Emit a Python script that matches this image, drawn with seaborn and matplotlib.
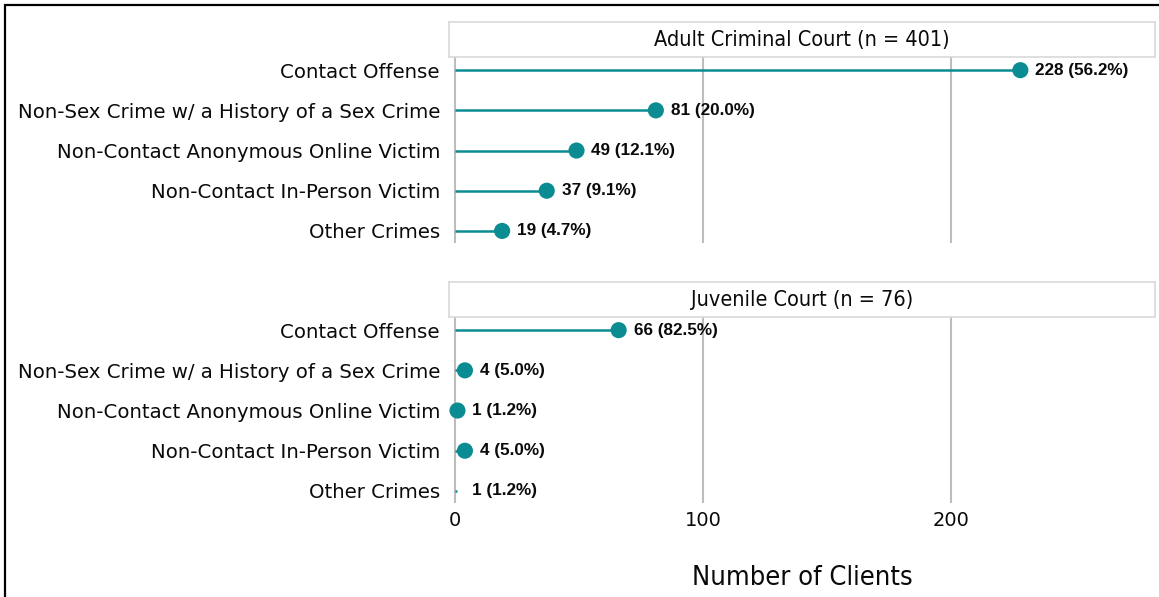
import matplotlib

matplotlib.use("Agg")
import matplotlib.pyplot as plt
import pandas
import seaborn as sns
from matplotlib.patches import Rectangle

# Categories (top to bottom) and the counts per court
categories = [
    "Contact Offense",
    "Non-Sex Crime w/ a History of a Sex Crime",
    "Non-Contact Anonymous Online Victim",
    "Non-Contact In-Person Victim",
    "Other Crimes",
]
adult_counts = [228, 81, 49, 37, 19]
adult_pcts = [56.2, 20.0, 12.1, 9.1, 4.7]
juvenile_counts = [66, 4, 1, 4, 1]
juvenile_pcts = [82.5, 5.0, 1.2, 5.0, 1.2]
# the last juvenile row is drawn without its dot in the source chart
juvenile_dots = [True, True, True, True, False]

panel_titles = ["Adult Criminal Court (n = 401)", "Juvenile Court (n = 76)"]
x_ticks = [0, 100, 200]

TEAL = "#0B8C93"
GRID = "#BDBDBD"
INK = "#0a0a0a"

sns.set_theme(style="white")
plt.rcParams["font.family"] = ["DejaVu Sans"]

fig = plt.figure(figsize=(11.59, 5.97), dpi=100)

# Frame around the whole figure (bottom edge falls outside the picture)
fig.patches.append(
    Rectangle(
        (5 / 1159, -0.05),
        1.0,
        1.0 - 5 / 597 + 0.05,
        transform=fig.transFigure,
        fill=False,
        edgecolor="black",
        linewidth=1.6,
    )
)

panels = [
    (adult_counts, adult_pcts, [True] * 5, 0.5930),
    (juvenile_counts, juvenile_pcts, juvenile_dots, 0.1575),
]

left = 449 / 1159
width = 1155 / 1159 - left
height = 0.3110
strip_h = 35 / 597

for i, (counts, pcts, dots, bottom) in enumerate(panels):
    ax = fig.add_axes([left, bottom, width, height])
    df = pandas.DataFrame(
        {"category": categories, "count": counts, "pct": pcts, "dot": dots}
    )
    ypos = list(range(len(categories)))

    # Stems
    ax.hlines(y=ypos, xmin=0, xmax=df["count"], color=TEAL, linewidth=1.8, zorder=2)
    # Dots
    dot_df = df[df["dot"]].copy()
    dot_df["y"] = [ypos[j] for j in dot_df.index]
    sns.scatterplot(
        data=dot_df, x="count", y="y", ax=ax, color=TEAL, s=135,
        edgecolor="none", zorder=3, legend=False,
    )
    # Value labels
    for j, row in df.iterrows():
        ax.text(
            row["count"] + 6.0, ypos[j], f"{row['count']} ({row['pct']:.1f}%)",
            va="center", ha="left", fontsize=12.3, fontweight="bold",
            family=["Liberation Sans Narrow", "Liberation Sans"], color=INK,
        )

    ax.set_xlim(-2.42, 282.3)
    ax.set_ylim(len(categories) - 0.7, -0.32)
    ax.set_yticks(ypos)
    ax.set_yticklabels(categories, fontsize=14.2)
    ax.set_xticks(x_ticks)
    ax.grid(axis="x", color=GRID, linewidth=1.5, zorder=0)
    ax.grid(axis="y", visible=False)
    for sp in ax.spines.values():
        sp.set_visible(False)
    ax.tick_params(axis="y", length=0, pad=6.5, colors=INK)
    ax.tick_params(axis="x", length=0, pad=6, labelsize=14, colors=INK)
    ax.set_xlabel("")
    ax.set_ylabel("")
    if i == 0:
        ax.set_xticklabels([])
    else:
        ax.set_xlabel("Number of Clients", fontsize=19.5, labelpad=25,
                      color=INK, fontstretch="condensed")

    # Facet strip
    sax = fig.add_axes([left, bottom + height, width, strip_h])
    sax.set_xticks([])
    sax.set_yticks([])
    for sp in sax.spines.values():
        sp.set_color("#D9D9D9")
        sp.set_linewidth(1.2)
    sax.text(0.5, 0.5, panel_titles[i], ha="center", va="center",
             fontsize=15.5, color=INK, fontstretch="condensed",
             transform=sax.transAxes)

fig.savefig("out.png", dpi=100)
